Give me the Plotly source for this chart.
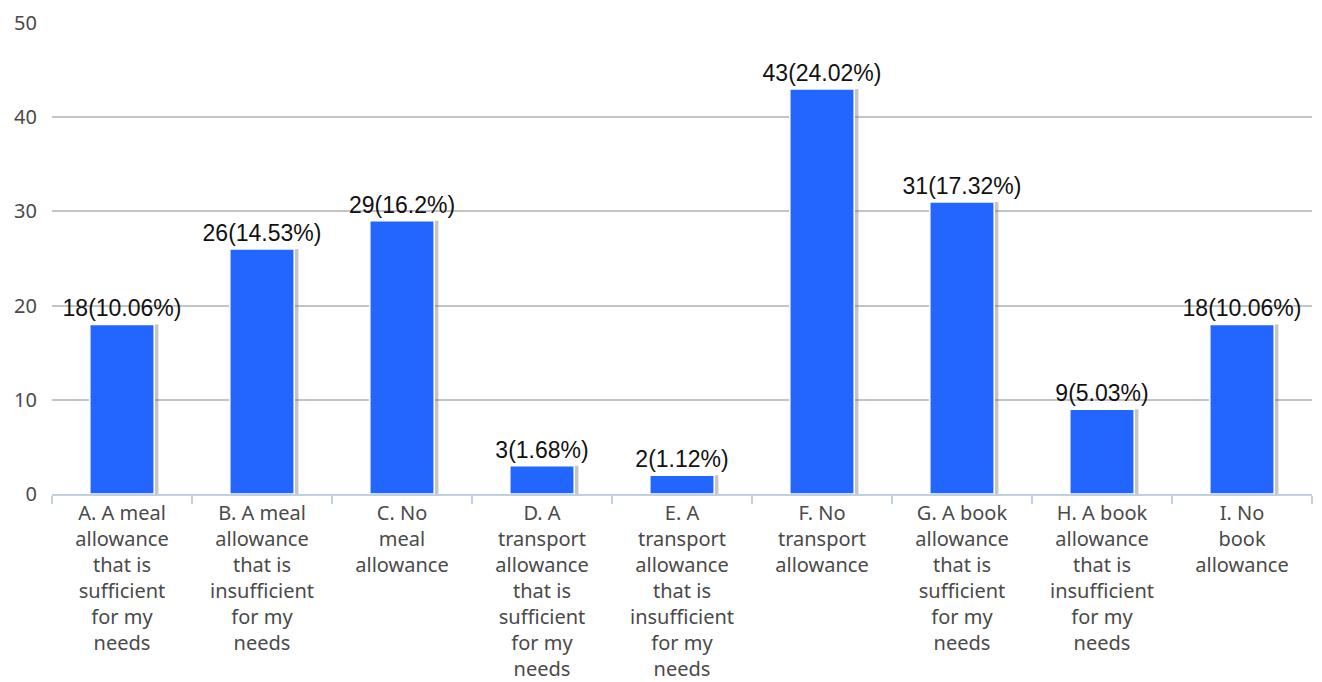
import plotly.graph_objects as go

categories = [
    "A. A meal<br>allowance<br>that is<br>sufficient<br>for my<br>needs",
    "B. A meal<br>allowance<br>that is<br>insufficient<br>for my<br>needs",
    "C. No<br>meal<br>allowance",
    "D. A<br>transport<br>allowance<br>that is<br>sufficient<br>for my<br>needs",
    "E. A<br>transport<br>allowance<br>that is<br>insufficient<br>for my<br>needs",
    "F. No<br>transport<br>allowance",
    "G. A book<br>allowance<br>that is<br>sufficient<br>for my<br>needs",
    "H. A book<br>allowance<br>that is<br>insufficient<br>for my<br>needs",
    "I. No<br>book<br>allowance",
]
counts = [18, 26, 29, 3, 2, 43, 31, 9, 18]
percents = ["10.06", "14.53", "16.2", "1.68", "1.12", "24.02", "17.32", "5.03", "10.06"]
y_ticks = [0, 10, 20, 30, 40, 50]

labels = [f"{c}({p}%)" for c, p in zip(counts, percents)]
BAR_W = 0.46

fig = go.Figure()

# soft drop shadow behind each bar
fig.add_trace(go.Bar(
    x=categories, y=counts, width=BAR_W, offset=-BAR_W / 2 + 0.03,
    marker=dict(color="rgba(110,110,110,0.4)", line=dict(width=0)),
    hoverinfo="skip", showlegend=False,
))

fig.add_trace(go.Bar(
    x=categories, y=counts, width=BAR_W, offset=-BAR_W / 2,
    marker=dict(color="#2266FF", line=dict(color="white", width=1.5)),
    text=labels, textposition="outside", cliponaxis=False,
    constraintext="none",
    textfont=dict(family="Liberation Sans, Arial, sans-serif", size=23, color="#111"),
    showlegend=False,
))

fig.update_layout(
    width=1322, height=682,
    margin=dict(l=52, r=10, t=23, b=188, autoexpand=False),
    paper_bgcolor="white", plot_bgcolor="white",
    barmode="overlay",
    font=dict(family="Noto Sans, sans-serif", size=20, color="#4a4a4a"),
    xaxis=dict(
        type="category", tickson="boundaries", ticks="outside", ticklen=8,
        tickcolor="#c0d0e0", tickwidth=2,
        showline=True, linecolor="#c0d0e0", linewidth=2,
        showgrid=False, tickangle=0, automargin=False,
        tickfont=dict(family="Noto Sans, sans-serif", size=20, color="#4a4a4a"),
    ),
    yaxis=dict(
        range=[0, 50], tickvals=y_ticks, showgrid=True, gridcolor="#c4c4c4",
        gridwidth=2, zeroline=False, showline=False, ticks="",
        automargin=False, ticklabelstandoff=14,
        tickfont=dict(family="Noto Sans, sans-serif", size=20, color="#4a4a4a"),
    ),
)

fig.write_html("out.html")
